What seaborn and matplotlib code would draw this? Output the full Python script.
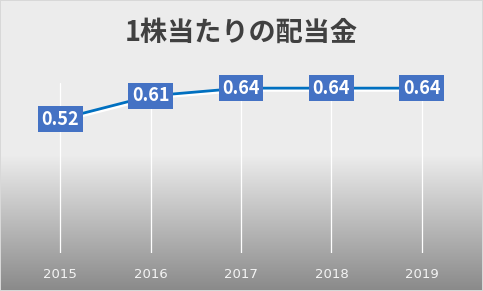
import numpy as np
import pandas as pd
import matplotlib
matplotlib.use("Agg")
import matplotlib.pyplot as plt
import matplotlib.patheffects as pe
import seaborn as sns

years = ["2015", "2016", "2017", "2018", "2019"]
dividends = [0.52, 0.61, 0.64, 0.64, 0.64]
title = "1株当たりの配当金"

sns.set_theme(style="white")
plt.rcParams["font.family"] = ["Noto Sans CJK JP", "DejaVu Sans"]

W, H = 483, 291
fig = plt.figure(figsize=(W / 100, H / 100), dpi=100)

# gradient background
bg = fig.add_axes([0, 0, 1, 1], zorder=0)
rows = np.arange(H)
vals = np.where(rows < 155, 236, 236 - (rows - 155) / (H - 155) * (236 - 137))
grad = np.repeat((vals / 255.0)[:, None], W, axis=1)
img = np.dstack([grad, grad, grad])
# border
img[0, :, :] = 0.85
img[-1, :, :] = 0.85
img[:, 0, :] = 0.85
img[:, -1, :] = 0.85
bg.imshow(img, aspect="auto", interpolation="nearest", extent=[0, 1, 0, 1])
bg.set_axis_off()

ax = fig.add_axes([15 / W, (H - 253) / H, (467 - 15) / W, (253 - 83) / H], zorder=1)
ax.patch.set_alpha(0)

df = pd.DataFrame({"year": years, "value": dividends})
sns.lineplot(data=df, x="year", y="value", ax=ax, color="#0070C0", linewidth=2,
             sort=False,
             path_effects=[pe.SimpleLineShadow(offset=(0.6, -1.6), shadow_color="white", alpha=1.0),
                           pe.Normal()])

ax.set_xlim(-0.5, len(years) - 0.5)
ax.set_ylim(0, 0.66)
ax.set_yticks([])
ax.set_xlabel("")
ax.set_ylabel("")
for s in ax.spines.values():
    s.set_visible(False)
ax.grid(axis="x", color="white", linewidth=0.9)
ax.grid(axis="y", visible=False)
ax.tick_params(axis="x", length=0, pad=11, labelsize=9.5, labelcolor="#f4f4f4")
for lbl in ax.get_xticklabels():
    lbl.set_family(["DejaVu Sans"])
ax.set_axisbelow(True)

for i, v in enumerate(dividends):
    ax.text(i, v, f"{v:.2f}", ha="center", va="center", fontsize=13, fontweight="bold",
            color="white", zorder=5,
            bbox=dict(boxstyle="square,pad=0.2", facecolor="#4472C4", edgecolor="none"))

fig.text(0.5, (H - 33) / H, title, ha="center", va="center", fontsize=19.5,
         fontweight="bold", color="#404040")

fig.savefig("out.png", dpi=100)
